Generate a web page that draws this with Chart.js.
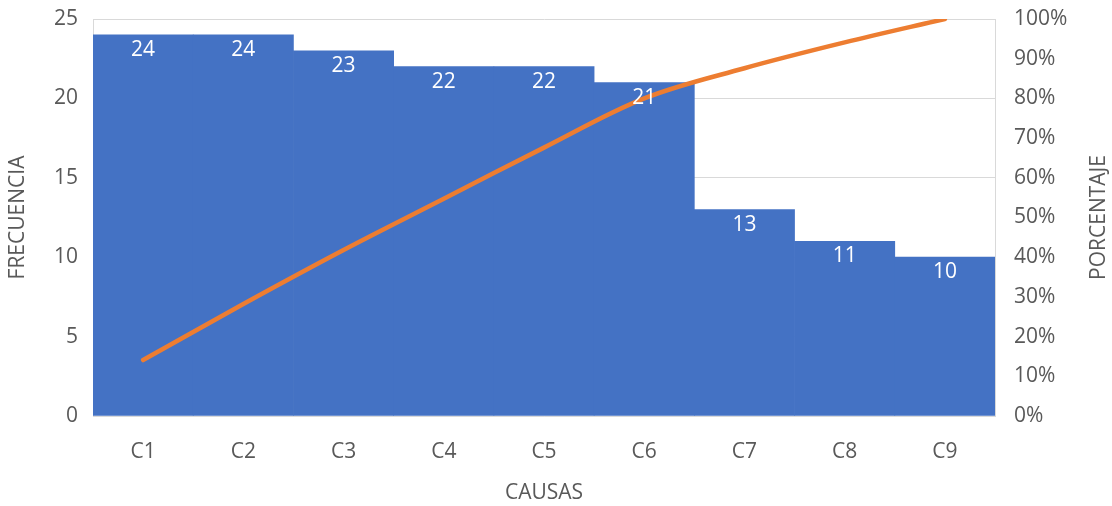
<!DOCTYPE html>
<html>
<head>
<meta charset="utf-8">
<script src="https://cdn.jsdelivr.net/npm/chart.js@4"></script>
<style>
  html, body { margin: 0; padding: 0; background: #ffffff; }
  #wrap { width: 1112px; height: 506px; }
</style>
</head>
<body>
<div id="wrap"><canvas id="pareto" width="1112" height="506"></canvas></div>
<script>
// Causes and how often each one occurs
const causas = ['C1', 'C2', 'C3', 'C4', 'C5', 'C6', 'C7', 'C8', 'C9'];
const frecuencia = [24, 24, 23, 22, 22, 21, 13, 11, 10];
// Cumulative share of the total, in percent
const porcentajeAcumulado = [14.1, 28.2, 41.8, 54.7, 67.6, 80.0, 87.6, 94.1, 100];
// Axis tick settings
const frecuenciaTicks = { min: 0, max: 25, step: 5 };
const porcentajeTicks = { min: 0, max: 100, step: 10 };

const FONT = "'Open Sans', 'DejaVu Sans', sans-serif";
const TEXT_GREY = '#595959';
const GRID_GREY = '#d9d9d9';
const FONT_SIZE = 21;

// White value labels just inside the top of each bar
const barValueLabels = {
  id: 'barValueLabels',
  afterDatasetsDraw(chart) {
    const idx = chart.data.datasets.findIndex(d => d.type === 'bar');
    const meta = chart.getDatasetMeta(idx);
    const values = chart.data.datasets[idx].data;
    const ctx = chart.ctx;
    ctx.save();
    ctx.fillStyle = '#ffffff';
    ctx.font = FONT_SIZE + 'px ' + FONT;
    ctx.textAlign = 'center';
    ctx.textBaseline = 'middle';
    meta.data.forEach((bar, i) => {
      ctx.fillText(String(values[i]), bar.x, bar.y + 15);
    });
    ctx.restore();
  }
};

// Right-hand axis title, reading bottom to top
const rightAxisTitle = {
  id: 'rightAxisTitle',
  afterDraw(chart) {
    const area = chart.chartArea;
    const ctx = chart.ctx;
    ctx.save();
    ctx.translate(1099, (area.top + area.bottom) / 2);
    ctx.rotate(-Math.PI / 2);
    ctx.fillStyle = TEXT_GREY;
    ctx.font = FONT_SIZE + 'px ' + FONT;
    ctx.textAlign = 'center';
    ctx.textBaseline = 'middle';
    ctx.fillText('PORCENTAJE', 0, 0);
    ctx.restore();
  }
};

// Vertical axes: fixed width, no extra end padding from the tick labels
function fixVertical(width) {
  return (scale) => {
    scale.width = width;
    scale.paddingTop = 0;
    scale.paddingBottom = 0;
  };
}

new Chart(document.getElementById('pareto'), {
  data: {
    labels: causas,
    datasets: [
      {
        type: 'line',
        label: 'Porcentaje acumulado',
        data: porcentajeAcumulado,
        yAxisID: 'y1',
        borderColor: '#ED7D31',
        borderWidth: 4.5,
        borderCapStyle: 'round',
        borderJoinStyle: 'round',
        pointRadius: 0,
        tension: 0.35,
        order: 0
      },
      {
        type: 'bar',
        label: 'Frecuencia',
        data: frecuencia,
        yAxisID: 'y',
        backgroundColor: '#4472C4',
        borderWidth: 0,
        barPercentage: 1,
        categoryPercentage: 1,
        order: 1
      }
    ]
  },
  options: {
    responsive: false,
    devicePixelRatio: 1,
    animation: false,
    layout: { padding: { top: 19, right: 0, bottom: 0, left: 0 } },
    plugins: {
      legend: { display: false },
      tooltip: { enabled: false }
    },
    scales: {
      x: {
        grid: { display: false, drawTicks: false },
        border: { display: true, color: GRID_GREY, width: 1 },
        ticks: { color: TEXT_GREY, font: { family: FONT, size: FONT_SIZE }, padding: 23 },
        title: {
          display: true, text: 'CAUSAS', color: TEXT_GREY,
          font: { family: FONT, size: FONT_SIZE }, padding: { top: 0, bottom: 0 }
        },
        afterFit(scale) {
          scale.height = 90;
          scale.paddingLeft = 0;
          scale.paddingRight = 0;
        }
      },
      y: {
        position: 'left',
        min: frecuenciaTicks.min,
        max: frecuenciaTicks.max,
        grid: { color: GRID_GREY, lineWidth: 1, drawTicks: false },
        border: { display: true, color: GRID_GREY },
        ticks: {
          stepSize: frecuenciaTicks.step, color: TEXT_GREY,
          font: { family: FONT, size: FONT_SIZE }, padding: 15
        },
        title: {
          display: true, text: 'FRECUENCIA', color: TEXT_GREY,
          font: { family: FONT, size: FONT_SIZE }, padding: { top: 5, bottom: 0 }
        },
        afterFit: fixVertical(93)
      },
      y1: {
        position: 'right',
        min: porcentajeTicks.min,
        max: porcentajeTicks.max,
        grid: { display: false, drawTicks: false },
        border: { display: true, color: GRID_GREY },
        ticks: {
          stepSize: porcentajeTicks.step, color: TEXT_GREY,
          font: { family: FONT, size: FONT_SIZE }, padding: 19,
          callback: (v) => v + '%'
        },
        afterFit: fixVertical(117)
      }
    }
  },
  plugins: [barValueLabels, rightAxisTitle]
});
</script>
</body>
</html>
